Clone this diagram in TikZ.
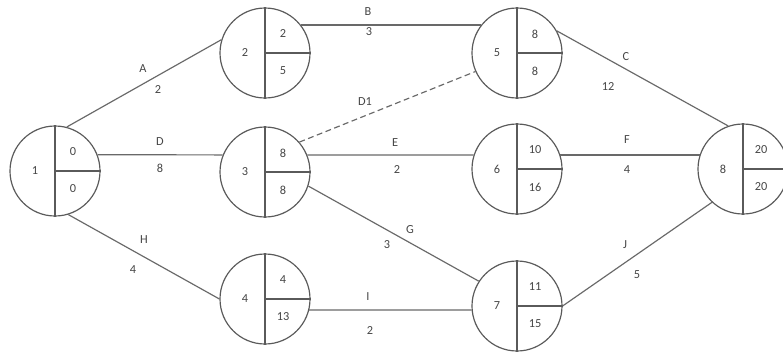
\documentclass[tikz,border=0pt]{standalone}
\usepackage{fontspec}
\setmainfont{Carlito}
\definecolor{evgray}{RGB}{90,90,90}
\definecolor{lngray}{RGB}{105,105,105}
\definecolor{txgray}{RGB}{70,70,70}
\begin{document}
\begin{tikzpicture}[x=0.03cm,y=-0.03cm,
  ev/.style={circle,draw=evgray,line width=1pt,minimum size=2.7cm,inner sep=0pt},
  act/.style={draw=lngray,line width=1pt},
  lbl/.style={text=txgray,font=\fontsize{10.5}{12}\selectfont,inner sep=1pt}]
\fill[white](0,0)rectangle(783,351);
\useasboundingbox(0,0)rectangle(783,351);
% events: number / x / y / early / late
\foreach \n/\px/\py/\es/\lf in {1/55/171/0/0, 2/265/53/2/5, 3/265/172/8/8, 4/265/299/4/13,
    5/517/53/8/8, 6/517/169/10/16, 7/517/306/11/15, 8/743/169/20/20}{
  \node[ev](e\n)at(\px,\py){};
  \draw[evgray,line width=1pt](e\n.north)--(e\n.south)(e\n.center)--(e\n.east);
  \node[lbl](n\n)at(\px-20,\py){\n};
  \node[lbl](es\n)at(\px+18,\py-19){\es};
  \node[lbl](lf\n)at(\px+18,\py+18){\lf};
}
% activities
\draw[act](e1.75)--(e2.163);
\draw[act](e1.21)--(e3.158);
\draw[act](e1.-73)--(e4.180);
\draw[act](e2.38)--(e5.142);
\draw[act,dash pattern=on 5pt off 3pt](e3.41)--(e5.204);
\draw[act](e3.22)--(e6.162);
\draw[act](e3.-18)--(e7.147);
\draw[act](e4.-14)--(e7.185);
\draw[act](e5.29)--(e8.109);
\draw[act](e6.18)--(e8.162);
\draw[act](e7.0)--(e8.227);
% names and durations
\node[lbl](lA)at(143,69){A};  \node[lbl](dA)at(158,90){2};
\node[lbl](lD)at(160,142){D}; \node[lbl](dD)at(160,168){8};
\node[lbl](lH)at(144,240){H}; \node[lbl](dH)at(133,270){4};
\node[lbl](lB)at(368,12){B};  \node[lbl](dB)at(369,32){3};
\node[lbl](lD1)at(365,102){D1};
\node[lbl](lE)at(395,143){E}; \node[lbl](dE)at(397,170){2};
\node[lbl](lG)at(410,230){G}; \node[lbl](dG)at(387,245){3};
\node[lbl](lI)at(368,297){I}; \node[lbl](dI)at(370,330){2};
\node[lbl](lC)at(626,57){C};  \node[lbl](dC)at(608,87){12};
\node[lbl](lF)at(627,140){F}; \node[lbl](dF)at(627,170){4};
\node[lbl](lJ)at(625,245){J}; \node[lbl](dJ)at(637,275){5};
\end{tikzpicture}
\end{document}
